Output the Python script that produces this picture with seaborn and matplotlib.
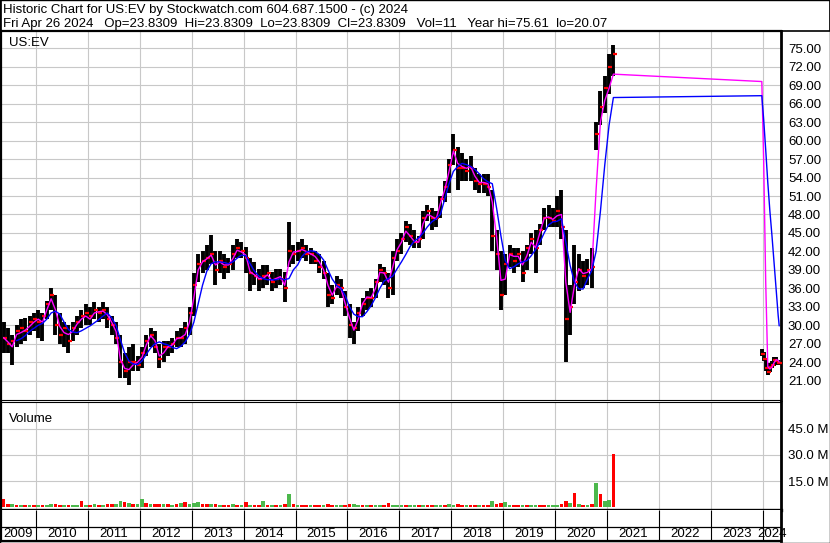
import numpy as np
import pandas as pd
import seaborn as sns
import matplotlib.pyplot as plt
from matplotlib.patches import Rectangle

# Monthly values, May 2009 - Feb 2021
months = pd.period_range("2009-05", "2021-02", freq="M")

high = [
    30.5, 29.5, 28.5, 30.0, 31.0, 31.2, 31.5, 32.0,
    32.5, 32.0, 34.0, 36.0, 35.0, 32.0, 30.5, 30.0, 30.5, 31.5, 32.5, 33.5,
    33.0, 33.8, 33.0, 33.8, 33.0, 31.5, 30.5, 28.5, 25.5, 26.5, 27.0, 25.0,
    26.5, 28.5, 29.5, 29.0, 27.0, 27.5, 27.5, 28.0, 29.0, 29.5, 30.5, 33.0,
    38.5, 41.5, 42.0, 43.0, 44.6, 42.0, 42.0, 41.5, 41.0, 43.0, 44.0, 43.5,
    42.7, 41.0, 40.3, 39.2, 39.8, 39.8, 38.7, 39.2, 39.2, 38.7, 46.8, 43.0,
    43.5, 44.0, 43.0, 42.5, 42.0, 41.5, 40.5, 38.5, 36.5, 38.0, 37.5, 35.5,
    33.5, 30.5, 33.0, 34.5, 35.5, 36.0, 37.5, 40.0, 39.5, 38.5, 42.0, 44.0,
    45.0, 47.0, 46.5, 45.5, 44.5, 48.5, 49.5, 49.0, 48.5, 51.0, 53.5, 57.0,
    61.0, 59.0, 58.0, 57.0, 57.5, 55.5, 54.5, 54.5, 54.5, 52.0, 45.5, 42.0,
    41.5, 43.0, 42.5, 42.5, 42.0, 43.0, 45.0, 45.5, 46.5, 49.0, 49.5, 49.0,
    51.0, 52.0, 45.5, 36.5, 43.0, 41.5, 40.5, 40.8, 42.5, 63.0, 68.0, 70.5,
    74.0, 75.6,
]
low = [
    25.5, 25.5, 23.5, 26.5, 27.0, 27.5, 28.5, 29.0,
    28.0, 27.5, 31.0, 32.5, 28.5, 27.0, 26.5, 25.5, 27.5, 28.5, 29.5, 30.0,
    30.0, 31.0, 30.5, 31.0, 29.5, 28.5, 27.0, 21.5, 21.5, 20.3, 22.5, 22.5,
    23.0, 25.0, 26.5, 25.5, 23.0, 24.0, 25.0, 25.5, 26.5, 26.5, 27.0, 28.5,
    31.5, 37.0, 38.5, 39.0, 40.0, 36.5, 38.5, 37.5, 38.5, 39.0, 41.0, 41.0,
    38.5, 35.5, 36.5, 35.5, 36.0, 36.5, 35.5, 36.0, 36.5, 33.8, 39.5, 40.0,
    40.5, 41.0, 40.5, 40.0, 40.0, 38.5, 37.5, 33.0, 33.5, 35.0, 34.5, 31.5,
    28.0, 27.0, 29.0, 31.5, 32.5, 33.0, 34.5, 37.0, 36.5, 34.5, 35.0, 40.5,
    41.5, 43.5, 43.0, 42.5, 42.5, 44.0, 47.0, 45.5, 46.0, 47.5, 50.0, 51.5,
    56.0, 52.0, 53.5, 53.5, 53.5, 52.0, 51.5, 51.5, 51.0, 42.0, 39.0, 32.5,
    35.0, 39.5, 38.5, 39.5, 37.0, 39.0, 41.5, 38.5, 43.0, 45.5, 46.0, 46.0,
    46.0, 44.0, 24.0, 28.5, 33.5, 35.5, 36.0, 36.5, 36.0, 58.5, 62.5, 64.5,
    67.5, 70.5,
]
close = [
    28.0, 27.0, 27.5, 29.0, 29.5, 29.0, 30.5, 31.0,
    30.5, 31.5, 33.5, 35.0, 30.0, 28.5, 29.5, 27.5, 29.5, 30.5, 31.5, 32.0,
    31.5, 32.5, 32.0, 32.5, 31.0, 30.0, 28.0, 24.0, 22.5, 24.0, 24.0, 23.5,
    25.5, 27.5, 28.5, 26.5, 24.5, 26.5, 26.5, 27.0, 28.0, 28.0, 29.5, 32.0,
    36.5, 40.0, 40.5, 41.0, 41.5, 39.0, 40.5, 39.5, 40.0, 41.5, 42.5, 42.0,
    41.0, 38.5, 38.0, 37.5, 38.0, 38.5, 37.0, 37.5, 37.5, 36.0, 42.0, 41.5,
    42.0, 42.5, 41.5, 41.5, 40.5, 39.5, 38.5, 35.0, 34.5, 36.5, 36.0, 33.0,
    30.0, 29.5, 32.0, 33.5, 34.5, 34.5, 37.0, 39.0, 38.5, 36.0, 41.0, 42.0,
    44.0, 46.0, 44.5, 43.5, 44.0, 47.5, 48.5, 47.5, 47.5, 50.5, 52.5, 56.0,
    58.5, 55.5, 55.5, 55.0, 55.5, 53.5, 53.0, 53.0, 52.5, 44.5, 41.5, 35.0,
    40.0, 41.5, 40.5, 41.5, 38.5, 42.5, 44.0, 42.5, 45.5, 47.5, 47.5, 47.0,
    48.5, 46.0, 31.0, 33.0, 37.0, 39.0, 38.0, 39.0, 39.5, 61.0, 65.5, 68.5,
    72.0, 74.0,
]
# magenta (short) and blue (long) moving averages as drawn on the chart
ma_short = [
    28.0, 27.3, 26.5, 28.5, 28.8, 29.2, 29.8, 30.5,
    31.0, 30.5, 32.5, 34.3, 32.5, 29.8, 28.8, 28.5, 29.0, 30.2, 31.0, 31.5,
    31.0, 32.0, 32.2, 32.3, 31.7, 30.5, 29.0, 24.5, 23.0, 22.8, 23.6, 24.0,
    24.8, 26.8, 28.3, 27.5, 25.0, 25.5, 26.5, 26.8, 27.8, 28.0, 28.5, 30.5,
    34.5, 39.0, 40.3, 40.8, 41.4, 39.8, 40.3, 39.8, 39.8, 40.8, 42.2, 41.9,
    41.4, 38.7, 38.2, 37.6, 37.6, 38.2, 37.3, 37.6, 37.9, 36.5, 40.3, 41.9,
    42.0, 42.3, 42.0, 41.6, 41.2, 40.3, 39.0, 36.5, 34.9, 36.3, 36.0, 33.5,
    31.2, 29.2, 31.0, 33.5, 34.6, 34.5, 36.0, 38.6, 38.5, 37.0, 39.5, 42.3,
    43.5, 45.3, 44.5, 43.6, 43.5, 46.5, 48.0, 47.7, 47.2, 49.8, 52.0, 55.0,
    58.3, 56.3, 55.8, 55.5, 55.8, 54.2, 53.2, 53.2, 53.0, 50.0, 44.3, 37.3,
    37.5, 41.5, 41.2, 41.2, 39.8, 41.3, 43.5, 42.6, 45.0, 47.4, 47.6, 47.2,
    47.8, 48.0, 37.0, 32.1, 36.5, 39.2, 38.4, 38.6, 39.2, 52.0, 63.0, 66.5,
    68.5, 70.8,
]
ma_long = [
    np.nan, np.nan, np.nan, 27.5, 27.8, 28.3, 29.0, 29.5,
    30.0, 30.3, 31.0, 32.0, 32.3, 31.8, 30.5, 29.3, 28.9, 28.8, 29.1, 29.5,
    29.9, 30.4, 30.9, 31.5, 32.0, 31.2, 30.0, 27.7, 25.5, 24.2, 23.7, 23.6,
    24.2, 25.3, 26.3, 27.0, 27.3, 27.0, 26.8, 26.4, 26.2, 26.6, 27.3, 28.5,
    30.5, 33.5, 36.5, 38.8, 40.0, 40.3, 40.3, 40.2, 40.0, 40.3, 40.9, 41.4,
    41.3, 40.0, 38.8, 38.0, 37.6, 37.4, 37.4, 37.4, 37.6, 37.4, 37.6, 39.0,
    39.8, 41.2, 41.9, 42.1, 42.0, 41.5, 40.6, 39.0, 37.5, 36.5, 36.0, 34.8,
    33.0, 31.8, 31.4, 31.4, 32.2, 33.2, 34.5, 36.0, 37.2, 37.6, 38.0, 39.2,
    40.3, 41.5, 42.8, 43.7, 44.2, 45.0, 46.0, 46.8, 47.3, 48.0, 50.5, 53.0,
    55.0, 55.8, 56.3, 56.1, 55.8, 55.3, 54.6, 53.8, 53.3, 53.0, 49.0, 44.5,
    40.5, 39.2, 39.5, 40.0, 40.3, 40.5, 41.3, 42.3, 43.5, 45.0, 46.3, 46.8,
    46.9, 47.3, 43.5, 39.7, 37.0, 35.9, 35.9, 37.5, 38.9, 42.0, 48.5, 56.0,
    62.5, 67.0,
]
# volume in millions, u = green (up day), d = red (down day)
volume = [
    4.5, 2.0, 1.8, 1.5, 1.6, 1.4, 1.5, 1.3,
    1.2, 1.4, 1.6, 1.8, 2.0, 1.6, 1.4, 1.5, 1.3, 1.6, 3.5, 1.5,
    1.6, 1.8, 1.5, 1.6, 1.7, 1.8, 2.2, 3.8, 3.0, 2.5, 2.0, 2.2,
    4.8, 2.5, 2.0, 1.8, 2.2, 2.0, 1.8, 1.5, 1.8, 2.5, 2.8, 2.2,
    2.5, 3.0, 2.0, 1.8, 2.2, 1.8, 1.6, 1.5, 1.5, 1.8, 1.5, 1.6,
    3.0, 1.5, 1.6, 1.5, 3.5, 1.4, 1.3, 1.5, 1.4, 1.8, 7.9, 2.0,
    1.5, 1.4, 1.3, 1.5, 1.4, 1.3, 1.5, 1.8, 1.6, 1.5, 1.4, 1.6,
    2.0, 2.2, 1.5, 1.4, 1.3, 1.4, 1.3, 1.5, 1.4, 2.5, 1.6, 1.4,
    1.4, 1.3, 1.2, 1.3, 1.2, 1.4, 1.3, 1.2, 1.3, 1.4, 1.3, 2.2,
    1.6, 1.8, 1.4, 1.3, 1.4, 1.3, 1.2, 1.3, 1.4, 3.8, 2.0, 2.6,
    3.0, 1.5, 1.4, 1.3, 1.4, 1.5, 1.4, 1.6, 1.3, 1.4, 1.3, 1.4,
    1.5, 2.0, 3.5, 2.5, 8.4, 1.8, 1.5, 1.6, 2.0, 14.0, 7.9, 3.5,
    4.0, 30.5,
]
vol_dir = "".join([
    "ddududud",
    "uduudduduudu",
    "dududduududu",
    "ududdudududu",
    "uuddududdudu",
    "duddudududud",
    "udduddudduud",
    "duududuudduu",
    "uduududduudu",
    "uddudduddudd",
    "uudduduudduu",
    "uddududududu",
    "ud",
])

# trading again after the gap, late Dec 2023 - Apr 26 2024
post_t = [2023.985, 2024.02, 2024.06, 2024.10, 2024.14, 2024.18, 2024.22, 2024.26, 2024.30, 2024.32]
post_high = [26.2, 25.6, 24.6, 23.8, 23.8, 24.2, 24.8, 24.9, 24.4, 24.0]
post_low = [25.0, 24.2, 22.5, 22.0, 22.4, 23.0, 23.4, 23.6, 23.5, 23.6]
post_close = [25.3, 24.5, 23.0, 22.4, 23.2, 23.5, 24.4, 24.2, 23.9, 23.8]
post_ma_short = [69.6, 57.0, 37.0, 23.3, 22.9, 23.2, 23.9, 24.4, 24.3, 24.0]
post_ma_long = [67.3, 63.5, 58.5, 53.2, 48.6, 44.6, 40.3, 36.0, 31.6, 29.9]
post_volume = [0.4, 0.3, 0.3, 0.3, 0.3, 0.3, 0.3, 0.3, 0.3, 0.3]

years = list(range(2009, 2025))
price_ticks = list(range(21, 76, 3))
vol_ticks = [15, 30, 45]

header_1 = "Historic Chart for US:EV by Stockwatch.com 604.687.1500 - (c) 2024"
header_2 = ("Fri Apr 26 2024   Op=23.8309  Hi=23.8309  Lo=23.8309  "
            "Cl=23.8309   Vol=11   Year hi=75.61  lo=20.07")

# ---------------------------------------------------------------
df = pd.DataFrame({
    "t": months.year + (months.month - 0.5) / 12,
    "high": high, "low": low, "close": close,
    "ma_short": ma_short, "ma_long": ma_long, "volume": volume,
    "dir": list(vol_dir),
})
post = pd.DataFrame({
    "t": post_t, "high": post_high, "low": post_low, "close": post_close,
    "ma_short": post_ma_short, "ma_long": post_ma_long, "volume": post_volume,
    "dir": ["d"] * len(post_t),
})
both = pd.concat([df, post], ignore_index=True)

sns.set_theme(style="white")
plt.rcParams["font.family"] = ["Liberation Sans", "DejaVu Sans"]
FS = 9.5
GRID = "#c8c8c8"

W, H = 830, 543
fig = plt.figure(figsize=(W / 100, H / 100), dpi=100)


def box(x0, y0, x1, y1):
    return [x0 / W, 1 - y1 / H, (x1 - x0) / W, (y1 - y0) / H]


ax_p = fig.add_axes(box(1, 31, 781, 400))
ax_v = fig.add_axes(box(1, 402, 781, 510))
ax_d = fig.add_axes(box(1, 510, 781, 541))

xmin = 2010 + (1 - 36) / 51.9
xmax = 2010 + (781 - 36) / 51.9

# price panel
ax_p.vlines(both["t"], both["low"], both["high"], color="black", linewidth=2.8, zorder=2)
ax_p.plot(both["t"] + 0.022, both["close"], linestyle="none", marker="_",
          ms=3, mew=1.6, color="red", zorder=3)
sns.lineplot(data=both, x="t", y="ma_short", color="#ff00ff", linewidth=1,
             estimator=None, sort=False, ax=ax_p, zorder=4)
sns.lineplot(data=both.dropna(subset=["ma_long"]), x="t", y="ma_long", color="#0000ff",
             linewidth=1, estimator=None, sort=False, ax=ax_p, zorder=4)
ax_p.set_xlim(xmin, xmax)
ax_p.set_ylim(17.86, 77.81)
ax_p.set_yticks(price_ticks)
ax_p.set_yticklabels([f"{v:.2f}" for v in price_ticks])
ax_p.yaxis.tick_right()
ax_p.set_xticks(years[1:])
ax_p.tick_params(axis="x", length=0, labelbottom=False)
ax_p.tick_params(axis="y", length=0, pad=5, labelsize=FS, colors="black")
ax_p.grid(True, color=GRID, linewidth=0.8, zorder=0)
ax_p.set_axisbelow(True)
ax_p.set_xlabel("")
ax_p.set_ylabel("")
ax_p.text(0.01, 0.967, "US:EV", transform=ax_p.transAxes, ha="left", va="center",
          fontsize=FS, color="black")

# volume panel
colors = ["#4cb84c" if d == "u" else "#ff0000" for d in both["dir"]]
ax_v.bar(both["t"], both["volume"], width=0.07, color=colors, linewidth=0, zorder=2)
ax_v.set_xlim(xmin, xmax)
ax_v.set_ylim(-1.5, 60.2)
ax_v.set_yticks(vol_ticks)
ax_v.set_yticklabels([f"{v:.1f} M" for v in vol_ticks])
ax_v.yaxis.tick_right()
ax_v.set_xticks(years[1:])
ax_v.tick_params(axis="x", length=0, labelbottom=False)
ax_v.tick_params(axis="y", length=0, pad=5, labelsize=FS, colors="black")
ax_v.grid(True, color=GRID, linewidth=0.8, zorder=0)
ax_v.set_axisbelow(True)
ax_v.text(0.01, 0.84, "Volume", transform=ax_v.transAxes, ha="left", va="center",
          fontsize=FS, color="black")

# date strip
ax_d.set_xlim(xmin, xmax)
ax_d.set_ylim(0, 1)
ax_d.set_xticks([])
ax_d.set_yticks([])
ax_d.vlines(years[1:], 0, 1, color="black", linewidth=0.8)
ax_d.axhline(0.45, color="black", linewidth=0.9)
for y in years:
    a, b = max(y, xmin), min(y + 1, xmax)
    ax_d.text((a + b) / 2, 0.22, str(y), ha="center", va="center",
              fontsize=FS, color="black", clip_on=False)

for ax in (ax_p, ax_v, ax_d):
    for side in ("left", "right", "top", "bottom"):
        ax.spines[side].set_color("black")
        ax.spines[side].set_linewidth(0.8)
        ax.spines[side].set_visible(True)
    ax.spines["left"].set_linewidth(1.6)
    ax.spines["right"].set_linewidth(2.0)
ax_p.spines["top"].set_linewidth(1.6)
ax_v.spines["bottom"].set_linewidth(2.4)
ax_d.spines["top"].set_visible(False)
ax_d.spines["bottom"].set_linewidth(1.6)

# header box
fig.add_artist(Rectangle((0.5 / W, 1 - 31 / H), (W - 1) / W, 30.5 / H,
                         transform=fig.transFigure, fill=False, ec="black", lw=1.2))
fig.text(3 / W, 1 - 9.5 / H, header_1, ha="left", va="center", fontsize=FS, color="black")
fig.text(3 / W, 1 - 23.5 / H, header_2, ha="left", va="center", fontsize=FS, color="black")
fig.add_artist(Rectangle((0, 0), 1, 1, transform=fig.transFigure, fill=False,
                         ec="black", lw=1.0))

fig.savefig("out.png", dpi=100)
